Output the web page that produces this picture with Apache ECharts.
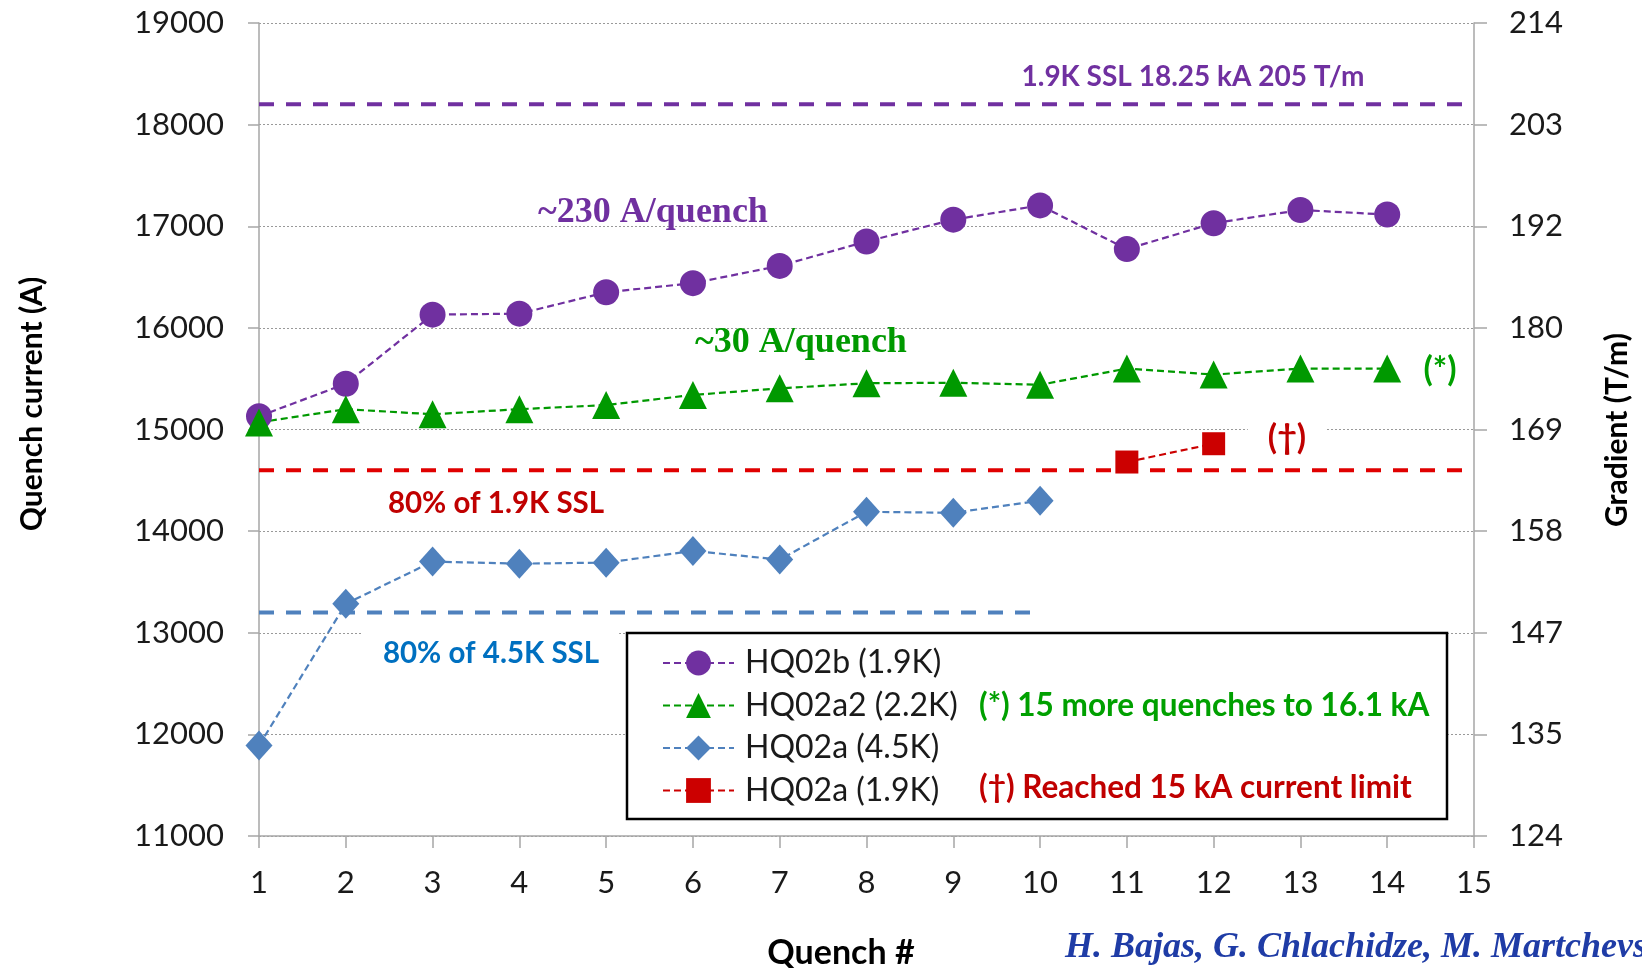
<!DOCTYPE html>
<html><head><meta charset="utf-8">
<script src="https://cdn.jsdelivr.net/npm/echarts@6/dist/echarts.min.js"></script>
<style>html,body{margin:0;padding:0;background:#fff;overflow:hidden}#c{width:1642px;height:968px}</style>
</head><body><div id="c"></div>
<script>
// ---- data ----
const quench = [1,2,3,4,5,6,7,8,9,10,11,12,13,14];
const hq02b_19K  = [15130,15450,16130,16140,16350,16440,16610,16850,17065,17205,16775,17030,17160,17115];
const hq02a2_22K = [15070,15200,15150,15200,15240,15340,15405,15455,15460,15440,15600,15540,15600,15600];
const hq02a_45K  = [11890,13285,13700,13680,13690,13805,13720,14190,14180,14300];
const hq02a_19K_x = [11,12];
const hq02a_19K  = [14680,14860];
const gradientTicks = ['124','135','147','158','169','180','192','203','214'];
const currentTicks = [11000,12000,13000,14000,15000,16000,17000,18000,19000];
// reference levels (A) and their quench ranges
const refNames  = ['1.9K SSL','80% of 1.9K SSL','80% of 4.5K SSL'];
const refValues = [18200, 14600, 13200];
const refStart  = [1, 1, 1];
const refEnd    = [15, 15, 10];
const seriesNames = ['HQ02b (1.9K)','HQ02a2 (2.2K)','HQ02a (4.5K)','HQ02a (1.9K)'];

const PURPLE='#7030A0', GREEN='#009900', BLUE='#4F81BD', RED='#CC0000';
const CAL='Lato, "Open Sans", sans-serif';
const TIMES='"Liberation Serif", "DejaVu Serif", serif';

const pairs = (xs, ys) => ys.map((v,i)=>[xs[i], v]);

const dataLine = (name, xs, ys, color, symbol, size) => ({
  name, type:'line', data: pairs(xs, ys), symbol, symbolSize: size,
  itemStyle:{color}, lineStyle:{color, width:2.2, type:[7,4]}, z:3,
  emphasis:{disabled:true}, animation:false
});
const refColors = [PURPLE, '#E00000', BLUE];
const refSeries = refValues.map((v,i)=>({
  name: refNames[i], type:'line', data:[[refStart[i], v],[refEnd[i], v]], symbol:'none',
  lineStyle:{color: refColors[i], width:4, type:[15,12]}, silent:true, z:2, animation:false
}));

const chart = echarts.init(document.getElementById('c'));
const axisGray = '#A6A6A6';
chart.setOption({
  animation:false,
  backgroundColor:'#fff',
  grid:{left:259, right:168, top:23, bottom:132, containLabel:false},
  xAxis:{type:'value', min:1, max:15, interval:1,
    axisLine:{show:true, lineStyle:{color:axisGray, width:1.5}},
    axisTick:{show:true, length:12, lineStyle:{color:axisGray, width:1.5}},
    axisLabel:{fontFamily:CAL, fontSize:31, color:'#1a1a1a', margin:31, formatter:(v)=>String(v)},
    splitLine:{show:false}},
  yAxis:[
    {type:'value', min:11000, max:19000, interval:1000, position:'left',
      axisLine:{show:true, lineStyle:{color:axisGray, width:1.5}},
      axisTick:{show:true, length:11, lineStyle:{color:axisGray, width:1.5}},
      axisLabel:{fontFamily:CAL, fontSize:31, color:'#1a1a1a', margin:35, formatter:(v)=>String(v)},
      splitLine:{show:true, lineStyle:{color:'#999999', width:1, type:[2,2]}}},
    {type:'value', min:11000, max:19000, interval:1000, position:'right',
      axisLine:{show:true, lineStyle:{color:axisGray, width:1.5}},
      axisTick:{show:true, length:13, lineStyle:{color:axisGray, width:1.5}},
      axisLabel:{fontFamily:CAL, fontSize:31, color:'#1a1a1a', margin:35,
        formatter:(v)=>gradientTicks[currentTicks.indexOf(v)]},
      splitLine:{show:false}}
  ],
  legend:{orient:'vertical', left:662, top:647, padding:0, itemGap:10.5,
    itemWidth:71, itemHeight:31, data:seriesNames, selectedMode:false,
    textStyle:{fontFamily:CAL, fontSize:32, color:'#1a1a1a', lineHeight:32, padding:[0,0,0,6]}, z:6},
  series:[
    ...refSeries,
    dataLine(seriesNames[0], quench, hq02b_19K, PURPLE, 'circle', 26),
    dataLine(seriesNames[1], quench, hq02a2_22K, GREEN, 'triangle', 28),
    dataLine(seriesNames[2], quench.slice(0, hq02a_45K.length), hq02a_45K, BLUE, 'diamond', [27,30]),
    dataLine(seriesNames[3], hq02a_19K_x, hq02a_19K, RED, 'rect', 23)
  ],
  graphic:[
    {type:'rect', z:4, shape:{x:627, y:633, width:820, height:186},
      style:{fill:'#fff', stroke:'#000', lineWidth:2.5}},
    {type:'text', z:7, x:1193, y:77, style:{text:'1.9K SSL 18.25 kA 205 T/m', font:'bold 28px '+CAL, fill:PURPLE, align:'center', verticalAlign:'middle'}},
    {type:'text', z:7, x:653, y:213, style:{text:'~230 A/quench', font:'bold 36px '+TIMES, fill:PURPLE, align:'center', verticalAlign:'middle'}},
    {type:'text', z:7, x:801, y:343, style:{text:'~30 A/quench', font:'bold 36px '+TIMES, fill:GREEN, align:'center', verticalAlign:'middle'}},
    {type:'text', z:7, x:1440, y:370, style:{text:'(*)', font:'bold 34px '+CAL, fill:'#00A000', align:'center', verticalAlign:'middle'}},
    {type:'text', z:7, x:1287, y:438, style:{text:'(\u2020)', font:'bold 34px '+CAL, fill:'#C00000', align:'center', verticalAlign:'middle', backgroundColor:'#fff', padding:[2,20,2,20]}},
    {type:'text', z:7, x:496, y:503, style:{text:'80% of 1.9K SSL', font:'bold 29.5px '+CAL, fill:'#C00000', align:'center', verticalAlign:'middle'}},
    {type:'text', z:7, x:491, y:653, style:{text:'80% of 4.5K SSL', font:'bold 29.5px '+CAL, fill:'#0070C0', align:'center', verticalAlign:'middle', backgroundColor:'#fff', padding:[8,20,6,20]}},
    {type:'text', z:7, x:979, y:706, style:{text:'(*) 15 more quenches to 16.1 kA', font:'bold 31.5px '+CAL, fill:'#00A000', align:'left', verticalAlign:'middle'}},
    {type:'text', z:7, x:979, y:788, style:{text:'(\u2020) Reached 15 kA current limit', font:'bold 31.5px '+CAL, fill:'#C00000', align:'left', verticalAlign:'middle'}},
    {type:'text', z:7, x:32, y:404, rotation:Math.PI/2, style:{text:'Quench current (A)', font:'bold 30px '+CAL, fill:'#000', align:'center', verticalAlign:'middle'}},
    {type:'text', z:7, x:1617, y:430, rotation:Math.PI/2, style:{text:'Gradient (T/m)', font:'bold 30px '+CAL, fill:'#000', align:'center', verticalAlign:'middle'}},
    {type:'text', z:7, x:841, y:953, style:{text:'Quench #', font:'bold 34px '+CAL, fill:'#000', align:'center', verticalAlign:'middle'}},
    {type:'text', z:7, x:1065, y:948, style:{text:'H. Bajas, G. Chlachidze, M. Martchevsky', font:'italic bold 36px '+TIMES, fill:'#1F3CA6', align:'left', verticalAlign:'middle'}}
  ]
});
</script></body></html>
